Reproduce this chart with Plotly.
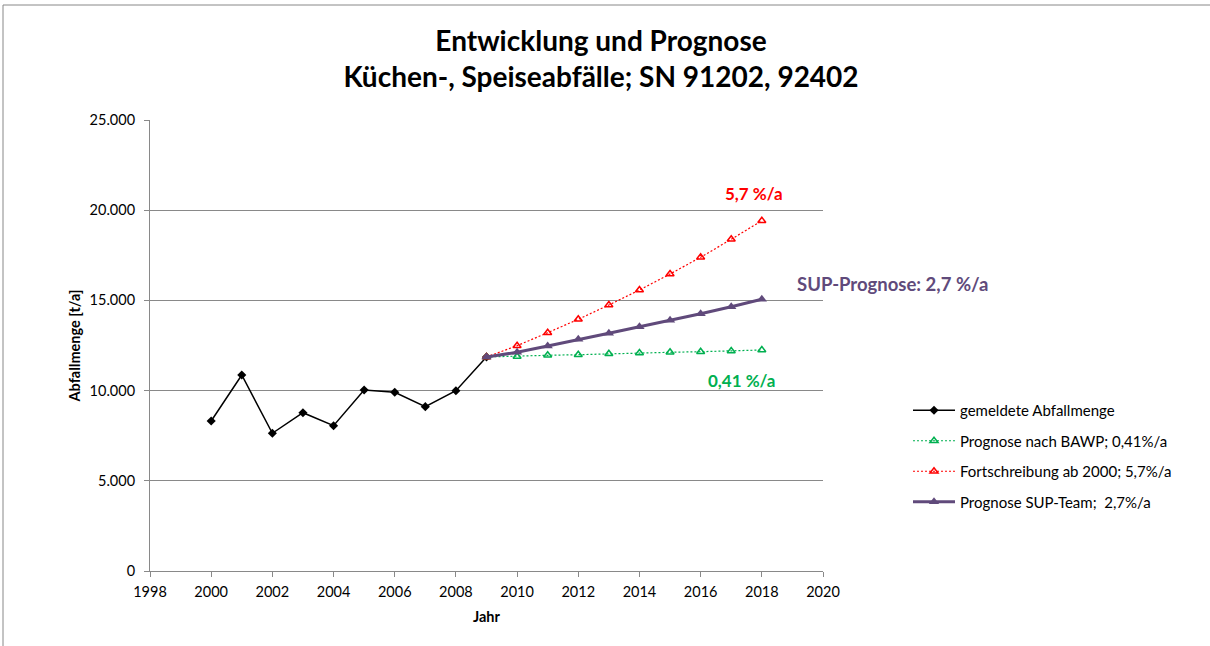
import plotly.graph_objects as go

years_hist = [2000, 2001, 2002, 2003, 2004, 2005, 2006, 2007, 2008, 2009]
menge_hist = [8315, 10865, 7635, 8775, 8055, 10035, 9905, 9110, 9995, 11863]

years_prog = [2009, 2010, 2011, 2012, 2013, 2014, 2015, 2016, 2017, 2018]
bawp = [11863, 11890, 11957, 11990, 12045, 12084, 12123, 12157, 12195, 12251]
fort = [11863, 12489, 13210, 13952, 14745, 15577, 16463, 17390, 18387, 19418]
sup = [11863, 12123, 12472, 12844, 13176, 13542, 13897, 14263, 14651, 15061]

names = ["gemeldete Abfallmenge", "Prognose nach BAWP; 0,41%/a",
         "Fortschreibung ab 2000; 5,7%/a", "Prognose SUP-Team;  2,7%/a"]
title_lines = ["Entwicklung und Prognose", "Küchen-, Speiseabfälle; SN 91202, 92402"]
x_ticks = list(range(1998, 2021, 2))
y_ticks = [0, 5000, 10000, 15000, 20000, 25000]
y_ticklabels = ["0", "5.000", "10.000", "15.000", "20.000", "25.000"]

FONT = "Lato, Calibri, Carlito, sans-serif"
PURPLE = "#604A7B"
GREEN = "#00B050"
RED = "#FF0000"
GRID = "#898989"

fig = go.Figure()
fig.add_trace(go.Scatter(x=years_hist, y=menge_hist, name=names[0], mode="lines+markers",
                         line=dict(color="black", width=1.5),
                         marker=dict(symbol="diamond", size=7, color="black"),
                         legendgroup="a"))
fig.add_trace(go.Scatter(x=years_prog, y=bawp, name=names[1], mode="lines+markers",
                         line=dict(color=GREEN, width=1.2, dash="2px,2px"),
                         marker=dict(symbol="triangle-up-open", size=7, color=GREEN,
                                     line=dict(width=1.5)),
                         legendgroup="b"))
fig.add_trace(go.Scatter(x=years_prog, y=fort, name=names[2], mode="lines+markers",
                         line=dict(color=RED, width=1.2, dash="2px,2px"),
                         marker=dict(symbol="triangle-up-open", size=7, color=RED,
                                     line=dict(width=1.5)),
                         legendgroup="c"))
fig.add_trace(go.Scatter(x=years_prog, y=sup, name=names[3], mode="lines+markers",
                         line=dict(color=PURPLE, width=3),
                         marker=dict(symbol="triangle-up", size=9, color=PURPLE),
                         legendgroup="d"))

fig.add_annotation(x=2018, y=fort[-1], text="<b>5,7 %/a</b>", showarrow=False,
                   xref="x", yref="y", xanchor="center", yanchor="middle",
                   xshift=-8, yshift=27,
                   font=dict(family=FONT, size=17, color=RED))
fig.add_annotation(x=2018, y=sup[-1], text="<b>SUP-Prognose: 2,7 %/a</b>", showarrow=False,
                   xref="x", yref="y", xanchor="left", yanchor="middle",
                   xshift=33, yshift=15,
                   font=dict(family=FONT, size=18.5, color=PURPLE))
fig.add_annotation(x=2018, y=bawp[-1], text="<b>0,41 %/a</b>", showarrow=False,
                   xref="x", yref="y", xanchor="center", yanchor="middle",
                   xshift=-20, yshift=-31,
                   font=dict(family=FONT, size=17, color=GREEN))

# outer chart border
fig.add_shape(type="rect", xref="paper", yref="paper",
              x0=(3 - 150) / 673, x1=(1215 - 150) / 673,
              y0=(571 - 660) / 451, y1=(571 - 5) / 451,
              line=dict(color="#888888", width=1), layer="below")

fig.update_layout(
    width=1210, height=646,
    paper_bgcolor="white", plot_bgcolor="white",
    margin=dict(l=150, r=387, t=120, b=75),
    font=dict(family=FONT, size=14.5, color="black"),
    title=dict(text="<b>" + title_lines[0] + "<br>" + title_lines[1] + "</b>",
               x=601 / 1210, xanchor="center", y=1 - 51 / 646, yanchor="top",
               font=dict(family=FONT, size=28, color="black")),
    showlegend=True,
    legend=dict(x=(908 - 150) / 673, xanchor="left", y=(571 - 394) / 451, yanchor="top",
                font=dict(family=FONT, size=15), tracegroupgap=8, itemwidth=42,
                bgcolor="rgba(0,0,0,0)", traceorder="grouped"),
    xaxis=dict(range=[1998, 2020], tickvals=x_ticks, ticks="outside", ticklen=5,
               tickcolor=GRID, showline=True, linecolor=GRID, linewidth=1,
               showgrid=False, zeroline=False, ticklabelstandoff=3,
               title=dict(text="<b>Jahr</b>", font=dict(family=FONT, size=14.5), standoff=12),
               tickfont=dict(family=FONT, size=14.5)),
    yaxis=dict(range=[0, 25000], tickvals=y_ticks, ticktext=y_ticklabels, ticks="outside",
               ticklen=5, tickcolor=GRID, showline=True, linecolor=GRID, linewidth=1,
               showgrid=True, gridcolor=GRID, gridwidth=1, zeroline=False,
               ticklabelstandoff=6,
               title=dict(text="<b>Abfallmenge [t/a]</b>", font=dict(family=FONT, size=14.5),
                          standoff=5),
               tickfont=dict(family=FONT, size=14.5)),
)

fig.write_html("out.html", config={"displayModeBar": False},
               post_script="document.body.style.margin='0';")
